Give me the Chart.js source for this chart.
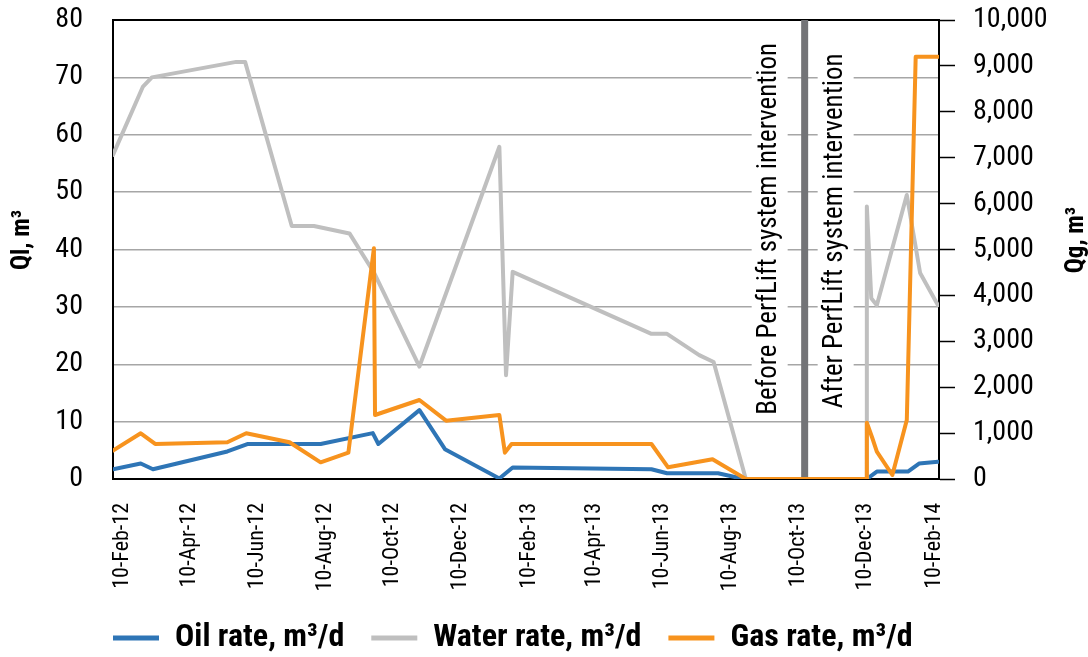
<!DOCTYPE html>
<html>
<head>
<meta charset="utf-8">
<script src="https://cdn.jsdelivr.net/npm/chart.js@4.4.1/dist/chart.umd.min.js"></script>
<style>
html, body { margin: 0; padding: 0; background: #fff; }
</style>
</head>
<body>
<canvas id="lineChart" width="1088" height="657"></canvas>
<script>
var FONT = "'Roboto Condensed', 'Liberation Sans Narrow', 'DejaVu Sans Condensed', 'Open Sans', sans-serif";

// x axis
var axisStart = '2012-02-01';
var axisEnd = '2014-02-14';
var tickDates = ['2012-02-10', '2012-04-10', '2012-06-10', '2012-08-10', '2012-10-10', '2012-12-10',
                 '2013-02-10', '2013-04-10', '2013-06-10', '2013-08-10', '2013-10-10', '2013-12-10', '2014-02-10'];
var tickLabels = ['10-Feb-12', '10-Apr-12', '10-Jun-12', '10-Aug-12', '10-Oct-12', '10-Dec-12',
                  '10-Feb-13', '10-Apr-13', '10-Jun-13', '10-Aug-13', '10-Oct-13', '10-Dec-13', '10-Feb-14'];

// oil rate, m3/d (left axis)
var oilDates = ['2012-02-01', '2012-02-26', '2012-03-08', '2012-05-14', '2012-06-01', '2012-08-06',
                '2012-09-22', '2012-09-27', '2012-11-03', '2012-11-26', '2013-01-14', '2013-01-26',
                '2013-05-31', '2013-06-14', '2013-07-30', '2013-08-22', '2013-12-11', '2013-12-20',
                '2014-01-17', '2014-01-27', '2014-02-13'];
var oilRate = [1.7, 2.7, 1.7, 4.8, 6.1, 6.1,
               8.0, 6.1, 12.0, 5.2, 0.1, 2.0,
               1.7, 1.0, 1.0, 0, 0, 1.3,
               1.3, 2.7, 3.0];

// water rate, m3/d (left axis)
var waterDates = ['2012-02-01', '2012-02-28', '2012-03-07', '2012-05-22', '2012-05-30', '2012-07-11',
                  '2012-07-31', '2012-09-01', '2012-09-23', '2012-11-03', '2013-01-14', '2013-01-20',
                  '2013-01-26', '2013-05-31', '2013-06-14', '2013-07-13', '2013-07-26', '2013-08-24',
                  '2013-12-11', '2013-12-11', '2013-12-15', '2013-12-20', '2014-01-16', '2014-01-28',
                  '2014-02-13'];
var waterRate = [56.5, 68.4, 70.0, 72.7, 72.7, 44.1,
                 44.1, 42.8, 36.0, 19.6, 57.9, 18.1,
                 36.1, 25.3, 25.3, 21.6, 20.4, 0,
                 0, 47.5, 31.5, 30.3, 49.5, 35.9,
                 30.3];

// gas rate, m3/d (right axis)
var gasDates = ['2012-02-01', '2012-02-26', '2012-03-10', '2012-05-14', '2012-05-31', '2012-07-09',
                '2012-08-06', '2012-08-31', '2012-09-23', '2012-09-24', '2012-11-03', '2012-11-27',
                '2013-01-14', '2013-01-19', '2013-01-25', '2013-05-31', '2013-06-15', '2013-07-25',
                '2013-08-24', '2013-12-11', '2013-12-11', '2013-12-16', '2013-12-20', '2014-01-03',
                '2014-01-16', '2014-01-24', '2014-02-13'];
var gasRate = [617, 996, 763, 800, 996, 800,
               363, 574, 5026, 1394, 1721, 1271,
               1394, 574, 763, 763, 255, 429,
               0, 0, 1227, 887, 595, 87,
               1285, 9200, 9200];

var markerDate = '2013-10-16';
var beforeText = 'Before PerfLift system intervention';
var afterText = 'After PerfLift system intervention';

function dayOf(s) {
    var p = s.split('-');
    return Date.UTC(+p[0], +p[1] - 1, +p[2]) / 86400000;
}

function points(dates, values) {
    return dates.map(function (d, i) { return { x: dayOf(d), y: values[i] }; });
}

function rotatedText(ctx, text, x, y, box) {
    ctx.save();
    ctx.translate(x, y);
    ctx.rotate(-Math.PI / 2);
    if (box) {
        var w = ctx.measureText(text).width;
        ctx.fillStyle = '#fff';
        ctx.fillRect(-w / 2 - 2, -box / 2, w + 4, box);
    }
    ctx.fillStyle = '#000';
    ctx.textAlign = 'center';
    ctx.textBaseline = 'middle';
    ctx.fillText(text, 0, 0);
    ctx.restore();
}

var extras = {
    id: 'extras',
    beforeInit: function (chart) {
        var fit = chart.legend.fit;
        chart.legend.fit = function () {
            fit.bind(chart.legend)();
            this.height = 62;
        };
    },
    afterLayout: function (chart) {
        // start the legend row under the left axis
        var lg = chart.legend;
        var off = chart.chartArea.left - (lg.left + lg.options.labels.padding);
        lg.left += off;
        lg.right += off;
    },
    beforeDatasetsDraw: function (chart) {
        var ctx = chart.ctx;
        var area = chart.chartArea;
        var x = chart.scales.x.getPixelForValue(dayOf(markerDate));

        // top border
        ctx.save();
        ctx.strokeStyle = '#000';
        ctx.lineWidth = 2;
        ctx.beginPath();
        ctx.moveTo(area.left - 1, area.top);
        ctx.lineTo(area.right + 1, area.top);
        ctx.stroke();

        // intervention marker
        ctx.strokeStyle = '#737477';
        ctx.lineWidth = 7;
        ctx.beginPath();
        ctx.moveTo(x, area.top);
        ctx.lineTo(x, area.bottom);
        ctx.stroke();
        ctx.restore();

        ctx.save();
        ctx.font = '27px ' + FONT;
        var cy = area.top + 0.455 * (area.bottom - area.top);
        rotatedText(ctx, beforeText, x - 35, cy, 36);
        rotatedText(ctx, afterText, x + 31, cy + 2, 36);
        ctx.restore();
    },
    afterDraw: function (chart) {
        var ctx = chart.ctx;
        var area = chart.chartArea;
        ctx.save();
        ctx.font = 'bold 25px ' + FONT;
        rotatedText(ctx, 'Ql, m³', area.left - 90, area.top + 220);
        rotatedText(ctx, 'Qg, m³', area.right + 138, area.top + 220);
        ctx.restore();
    }
};

var data = {
    datasets: [
        {
            label: 'Oil rate, m³/d',
            data: points(oilDates, oilRate),
            borderColor: '#2e75b6',
            backgroundColor: '#2e75b6',
            yAxisID: 'y',
            order: 3
        },
        {
            label: 'Water rate, m³/d',
            data: points(waterDates, waterRate),
            borderColor: '#bfbfbf',
            backgroundColor: '#bfbfbf',
            yAxisID: 'y',
            order: 2
        },
        {
            label: 'Gas rate, m³/d',
            data: points(gasDates, gasRate),
            borderColor: '#f7931e',
            backgroundColor: '#f7931e',
            yAxisID: 'y1',
            order: 1
        }
    ]
};

var lineOptions = {
    responsive: false,
    animation: false,
    devicePixelRatio: 1,
    layout: { padding: { left: 0, right: 0, top: 20, bottom: 0 } },
    elements: {
        line: { borderWidth: 4, tension: 0, borderJoinStyle: 'round', borderCapStyle: 'round' },
        point: { radius: 0 }
    },
    plugins: {
        tooltip: { enabled: false },
        legend: {
            position: 'bottom',
            align: 'start',
            labels: {
                color: '#000',
                font: { family: FONT, size: 32, weight: 'bold' },
                boxWidth: 46,
                boxHeight: 5,
                padding: 27,
                sort: function (a, b) { return a.datasetIndex - b.datasetIndex; },
                generateLabels: function (chart) {
                    var items = Chart.defaults.plugins.legend.labels.generateLabels(chart);
                    items.forEach(function (it) { it.lineWidth = 0; });
                    return items;
                }
            }
        }
    },
    scales: {
        x: {
            type: 'linear',
            min: dayOf(axisStart),
            max: dayOf(axisEnd),
            afterBuildTicks: function (s) {
                s.ticks = tickDates.map(function (d) { return { value: dayOf(d) }; });
            },
            afterFit: function (s) { s.height = 116; },
            ticks: {
                autoSkip: false,
                minRotation: 90,
                maxRotation: 90,
                padding: 24,
                color: '#000',
                font: { family: FONT, size: 22 },
                callback: function (v, i) { return tickLabels[i]; }
            },
            grid: { display: false, drawTicks: false },
            border: { color: '#000', width: 2 }
        },
        y: {
            position: 'left',
            min: 0,
            max: 80,
            afterFit: function (s) { s.width = 113; },
            ticks: { stepSize: 10, padding: 2, color: '#000', font: { family: FONT, size: 28 } },
            grid: {
                color: function (c) {
                    return (c.tick.value === 0 || c.tick.value === 80) ? 'rgba(0,0,0,0)' : '#a6a6a6';
                },
                lineWidth: 1.5,
                drawTicks: true,
                tickLength: 28,
                tickColor: 'rgba(0,0,0,0)'
            },
            border: { color: '#000', width: 2 }
        },
        y1: {
            position: 'right',
            min: 0,
            max: 10000,
            afterFit: function (s) { s.width = 149; },
            ticks: {
                stepSize: 1000,
                padding: 18,
                color: '#000',
                font: { family: FONT, size: 28, lineHeight: 0.1 },
                callback: function (v) { return v.toLocaleString('en-US'); }
            },
            grid: { drawOnChartArea: false, tickLength: 16, tickColor: '#000', tickWidth: 1.5 },
            border: { color: '#000', width: 2 }
        }
    }
};

var ctx = document.getElementById('lineChart').getContext('2d');
new Chart(ctx, { type: 'line', data: data, options: lineOptions, plugins: [extras] });
</script>
</body>
</html>
